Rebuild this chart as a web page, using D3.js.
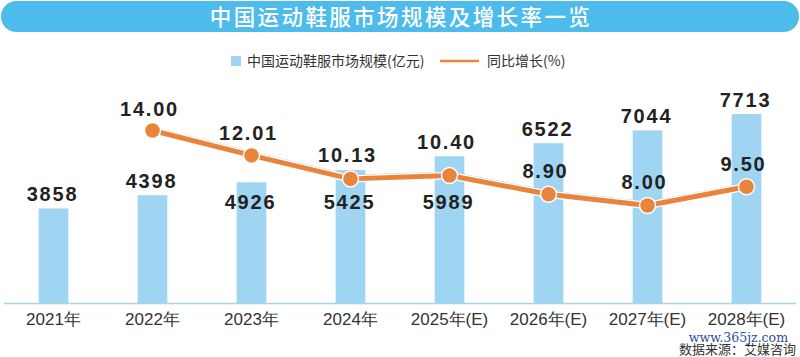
<!DOCTYPE html>
<html><head><meta charset="utf-8">
<script src="https://cdn.jsdelivr.net/npm/d3@7"></script>
<style>
html,body{margin:0;padding:0;background:#fff;}
svg{display:block;}
</style></head>
<body>
<svg id="chart" width="800" height="357"></svg>
<script>
const title = "中国运动鞋服市场规模及增长率一览";
const categories = ["2021年","2022年","2023年","2024年","2025年(E)","2026年(E)","2027年(E)","2028年(E)"];
const marketSize = [3858,4398,4926,5425,5989,6522,7044,7713];
const growthYears = ["2022年","2023年","2024年","2025年(E)","2026年(E)","2027年(E)","2028年(E)"];
const growthRate = [14.00,12.01,10.13,10.40,8.90,8.00,9.50];
const growthLabels = ["14.00","12.01","10.13","10.40","8.90","8.00","9.50"];
const legendNames = ["中国运动鞋服市场规模(亿元)","同比增长(%)"];
const sourceText = "数据来源：艾媒咨询";
const watermark = "www.365jz.com";

const svg = d3.select("#chart");
const barColor = "#9fd4f2", lineColor = "#ea843c", textColor = "#222";
const baseY = 303;

// title bar
svg.append("rect").attr("x",1).attr("y",1).attr("width",798).attr("height",31)
  .attr("rx",15.5).attr("fill","#4dbbeb");
svg.append("text").attr("x",401).attr("y",25).attr("text-anchor","middle")
  .attr("font-family","'Noto Sans CJK SC'").attr("font-weight",500).attr("font-size",21.5)
  .attr("letter-spacing",2.4).attr("fill","#fff").text(title);

// legend
svg.append("rect").attr("x",231).attr("y",56).attr("width",10).attr("height",10).attr("fill",barColor);
svg.append("text").attr("x",247).attr("y",66).attr("font-family","'Noto Sans CJK SC'")
  .attr("font-size",14).attr("fill","#333").text(legendNames[0]);
svg.append("line").attr("x1",440).attr("x2",479).attr("y1",61).attr("y2",61)
  .attr("stroke",lineColor).attr("stroke-width",2.5);
svg.append("text").attr("x",487).attr("y",66).attr("font-family","'Noto Sans CJK SC'")
  .attr("font-size",14).attr("fill","#333").text(legendNames[1]);

// scales
const x = d3.scaleBand().domain(categories).range([4,796]).paddingInner(0.7).paddingOuter(0.35);
const yBar = d3.scaleLinear().domain([0,8000]).range([baseY,107]);
const yLine = d3.scaleLinear().domain([0,16]).range([305.5,105.5]);
const cx = c => x(c) + x.bandwidth()/2;

// bars
svg.append("g").selectAll("rect").data(marketSize).join("rect")
  .attr("x",(d,i)=>x(categories[i])).attr("width",x.bandwidth())
  .attr("y",d=>yBar(d)).attr("height",d=>baseY-yBar(d)).attr("fill",barColor);

// axis
const axis = svg.append("g").attr("transform",`translate(0,${baseY})`)
  .call(d3.axisBottom(x).tickSize(0).tickPadding(0));
axis.select(".domain").attr("d","M4,0.5H796").attr("stroke","#a9d3e6").attr("stroke-width",1.5);
axis.selectAll("text").attr("dy",0).attr("y",22).attr("font-family","'Liberation Sans',Arial,sans-serif")
  .attr("font-size",17).attr("fill","#333");

// line
const pts = growthRate.map((v,i)=>[cx(growthYears[i]), yLine(v)]);
const lg = d3.line();
svg.append("path").attr("d",lg(pts.map(p=>[p[0],p[1]-3.5]))).attr("fill","none")
  .attr("stroke","#a9c9d8").attr("stroke-width",1.2);
svg.append("path").attr("d",lg(pts)).attr("fill","none").attr("stroke","#fff").attr("stroke-width",7.5)
  .attr("stroke-linejoin","round");
svg.append("path").attr("d",lg(pts)).attr("fill","none").attr("stroke",lineColor).attr("stroke-width",5)
  .attr("stroke-linejoin","round");
svg.append("g").selectAll("circle").data(pts).join("circle")
  .attr("cx",d=>d[0]).attr("cy",d=>d[1]).attr("r",8)
  .attr("fill",lineColor).attr("stroke","#fff").attr("stroke-width",1.5);

// labels
const lblFont = "'Liberation Sans',Arial,sans-serif";
const insideIdx = new Set([2,3,4]);
svg.append("g").selectAll("text").data(marketSize).join("text")
  .attr("x",(d,i)=>cx(categories[i])-1)
  .attr("y",(d,i)=> insideIdx.has(i) ? baseY-94 : yBar(d)-7)
  .attr("text-anchor","middle").attr("font-family",lblFont).attr("font-weight","bold")
  .attr("font-size",20).attr("letter-spacing",1.8).attr("fill",textColor).text(d=>d);
const lineDy = [-15,-15,-17,-27,-16,-17,-16];
svg.append("g").selectAll("text").data(growthLabels).join("text")
  .attr("x",(d,i)=>pts[i][0]-3)
  .attr("y",(d,i)=>pts[i][1]+lineDy[i])
  .attr("text-anchor","middle").attr("font-family",lblFont).attr("font-weight","bold")
  .attr("font-size",20).attr("letter-spacing",1.8).attr("fill",textColor).text(d=>d);

// source & watermark
svg.append("text").attr("x",796).attr("y",353.5).attr("text-anchor","end")
  .attr("font-family","'Noto Sans CJK SC'").attr("font-size",13).attr("fill","#333").text(sourceText);
svg.append("text").attr("x",788).attr("y",342).attr("text-anchor","end")
  .attr("font-family","'DejaVu Serif',serif").attr("font-size",12.5).attr("fill","#2b4ea0").text(watermark);
</script>
</body></html>
